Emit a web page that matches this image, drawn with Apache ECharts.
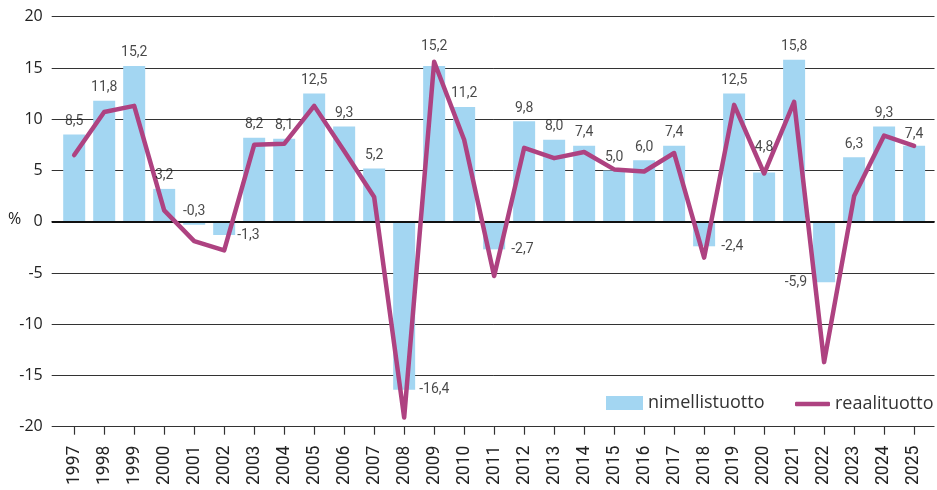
<!DOCTYPE html>
<html>
<head>
<meta charset="utf-8">
<script src="https://cdn.jsdelivr.net/npm/echarts@6/dist/echarts.min.js"></script>
<style>
html,body{margin:0;padding:0;background:#fff;}
#chart{width:937px;height:490px;}
</style>
</head>
<body>
<div id="chart"></div>
<script>
var years = [1997,1998,1999,2000,2001,2002,2003,2004,2005,2006,2007,2008,2009,2010,2011,2012,2013,2014,2015,2016,2017,2018,2019,2020,2021,2022,2023,2024,2025];
var nimellistuotto = [8.5,11.8,15.2,3.2,-0.3,-1.3,8.2,8.1,12.5,9.3,5.2,-16.4,15.2,11.2,-2.7,9.8,8.0,7.4,5.0,6.0,7.4,-2.4,12.5,4.8,15.8,-5.9,6.3,9.3,7.4];
var reaalituotto = [6.5,10.7,11.3,1.1,-1.9,-2.8,7.5,7.6,11.3,6.9,2.4,-19.1,15.6,8.0,-5.3,7.2,6.2,6.8,5.1,4.9,6.7,-3.5,11.4,4.7,11.7,-13.7,2.5,8.4,7.4];
var yTicks = [-20,-15,-10,-5,0,5,10,15,20];

// label placement (style only)
var labelPlace = {
  2001: {position:'top', distance:6},
  2002: {position:'right', distance:13},
  2008: {position:'right', distance:15},
  2009: {position:'top', distance:12},
  2011: {position:'right', distance:17},
  2018: {position:'right', distance:17},
  2020: {position:'top', distance:18},
  2022: {position:'left', distance:17},
  2025: {position:'top', distance:4}
};

function fmt(v){ return v.toFixed(1).replace('.', ','); }

var labelFont = 'Roboto,"Open Sans",sans-serif';
var mainFont = '"Open Sans",sans-serif';

var barData = years.map(function(y,i){ return [y, nimellistuotto[i]]; });
var lineData = years.map(function(y,i){ return [y, reaalituotto[i]]; });
var labelData = years.map(function(y,i){
  var p = labelPlace[y] || {position:'top', distance:6};
  return {value:[y, nimellistuotto[i]], label:{position:p.position, distance:p.distance}};
});

var chart = echarts.init(document.getElementById('chart'), null, {renderer:'canvas'});
chart.setOption({
  animation:false,
  backgroundColor:'#fff',
  grid:{left:51.7, right:2.5, top:16.7, bottom:63.3},
  legend:[
    {
      left:606, top:394, padding:0,
      itemWidth:37, itemHeight:14,
      textStyle:{fontFamily:mainFont, fontSize:18, color:'#333'},
      data:[{name:'nimellistuotto', icon:'rect'}]
    },
    {
      left:795, top:395, padding:0,
      itemWidth:35, itemHeight:4.5,
      textStyle:{fontFamily:mainFont, fontSize:18, color:'#333'},
      data:[{name:'reaalituotto', icon:'roundRect'}]
    }
  ],
  xAxis:{
    type:'value', min:1996.25, max:2025.68,
    axisLine:{show:false, onZero:false},
    splitLine:{show:false},
    axisTick:{show:true, length:8, customValues:years, lineStyle:{color:'#333', width:1.2}},
    axisLabel:{
      customValues:years, rotate:90, margin:19,
      fontFamily:labelFont, fontSize:17.5, color:'#222',
      formatter:function(v){ return String(Math.round(v)); }
    }
  },
  yAxis:{
    type:'value', min:-20, max:20, interval:5,
    axisLine:{show:false}, axisTick:{show:false},
    axisLabel:{margin:9, fontFamily:mainFont, fontSize:16, color:'#222'},
    splitLine:{lineStyle:{color:'#333', width:1}}
  },
  graphic:[{type:'text', left:8, top:211, style:{text:'%', fontFamily:mainFont, fontSize:16, fill:'#222'}}],
  series:[
    {
      name:'nimellistuotto', type:'bar', data:barData, barWidth:22,
      itemStyle:{color:'#a3d6f2'},
      markLine:{
        silent:true, symbol:'none', label:{show:false},
        lineStyle:{color:'#111', width:2, type:'solid'},
        data:[{yAxis:0}], z:3
      }
    },
    {
      name:'reaalituotto', type:'line', data:lineData, symbol:'none',
      lineStyle:{color:'#ae4281', width:4.5, join:'round', cap:'round'},
      itemStyle:{color:'#ae4281'}, z:5
    },
    {
      name:'labels', type:'scatter', data:labelData, symbolSize:0, silent:true, z:6,
      label:{show:true, fontFamily:labelFont, fontSize:14, color:'#1a1a1a',
        formatter:function(p){ return fmt(p.value[1]); }}
    }
  ]
});
</script>
</body>
</html>
